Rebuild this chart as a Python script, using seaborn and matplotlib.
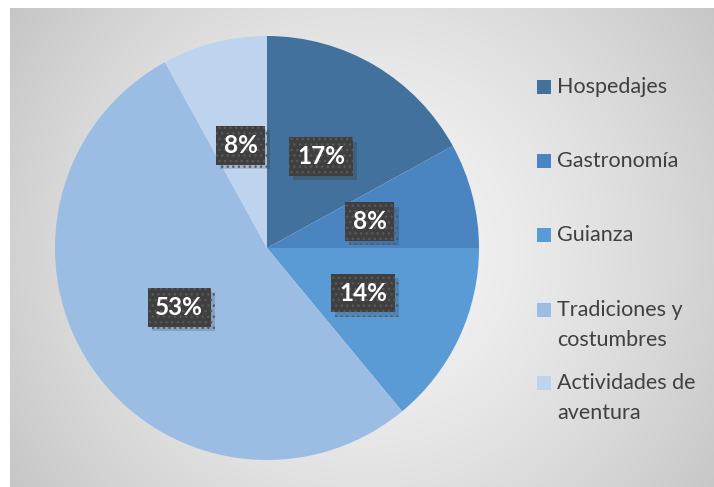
import numpy as np
import matplotlib
matplotlib.use("Agg")
import matplotlib.pyplot as plt
import matplotlib.patheffects as pe
from matplotlib.patches import Rectangle
import seaborn as sns

categories = ["Hospedajes", "Gastronomía", "Guianza", "Tradiciones y\ncostumbres", "Actividades de\naventura"]
values = [17, 8, 14, 53, 8]
colors = ["#41719c", "#4a85c1", "#5b9bd5", "#9bbce3", "#bdd3ee"]

sns.set_theme(style="white")
plt.rcParams["font.family"] = ["Lato", "DejaVu Sans"]

W, H = 714, 487
fig = plt.figure(figsize=(W / 100, H / 100), dpi=100)
fig.patch.set_facecolor("white")

# background radial gradient (chart area starts at x=10, y=8 px)
bg = fig.add_axes([10 / W, 0, 1 - 10 / W, 1 - 8 / H])
bg.set_axis_off()
yy, xx = np.mgrid[8:H, 10:W]
d = np.sqrt((xx - 365) ** 2 + (yy - 250) ** 2) / 430.0
g = 0.965 - (0.965 - 0.775) * np.clip(d, 0, 1.1) ** 1.4
bg.imshow(np.dstack([g, g, g]), aspect="auto", extent=[0, 1, 0, 1], origin="upper")
bg.set_xlim(0, 1)
bg.set_ylim(0, 1)

# pie axes: center (267,248) px, radius 212 px
cx, cy, r = 267, 248, 212
ax = fig.add_axes([(cx - r) / W, (H - cy - r) / H, 2 * r / W, 2 * r / H])
wedges, texts, autotexts = ax.pie(
    values, colors=colors, startangle=90, counterclock=False,
    autopct="%1.0f%%", pctdistance=0.5, radius=1.0,
    wedgeprops=dict(linewidth=0),
    textprops=dict(color="white", fontsize=17.5, fontweight="bold"),
)
ax.set_xlim(-1, 1)
ax.set_ylim(-1, 1)
ax.set_aspect("equal")
ax.set_axis_off()

for t in autotexts:
    t.set_zorder(4)
    t.set_bbox(dict(boxstyle="square,pad=0.32", facecolor="#3f3f3f",
                    edgecolor="#595959", linewidth=0, hatch="..."))
    t.get_bbox_patch().set_path_effects([
        pe.SimplePatchShadow(offset=(3, -3), shadow_rgbFace="black", alpha=0.13),
        pe.Normal(),
    ])

# legend (manual, Excel-like spacing)
legend_y = [87, 161, 235, 310, 383]
for lab, col, ly in zip(categories, colors, legend_y):
    fig.patches.append(Rectangle((537 / W, (H - ly - 7) / H), 14 / W, 14 / H,
                                 transform=fig.transFigure, facecolor=col,
                                 edgecolor="none", zorder=5))
    multi = "\n" in lab
    fig.text(557 / W, (H - ly + (10 if multi else 0)) / H, lab, fontsize=15.5,
             color="#404040", ha="left", va="top" if multi else "center",
             linespacing=1.6, zorder=5)

fig.savefig("out.png", dpi=100)
